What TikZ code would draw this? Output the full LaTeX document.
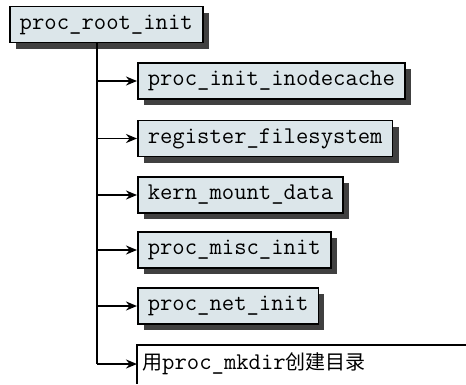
\documentclass[tikz,border=0pt]{standalone}
\usepackage{fontspec}
\newfontfamily\cjk{Noto Sans CJK SC}
\usetikzlibrary{arrows.meta,shadows}
\definecolor{boxfill}{HTML}{DCE6EA}
\definecolor{shade}{HTML}{404040}
\tikzset{
  x=1pt,y=-1pt,
  fnbox/.style={draw=black,line width=1.5pt,fill=boxfill,anchor=west,
    inner xsep=10pt,inner ysep=0pt,minimum height=36pt,
    font=\fontsize{24}{28}\selectfont\ttfamily,
    drop shadow={shadow xshift=6pt,shadow yshift=-6pt,fill=shade,opacity=1}},
  conn/.style={line width=1.8pt,-{Stealth[length=11pt,width=9pt]}},
  plain/.style={line width=1.3pt}
}
\begin{document}
\begin{tikzpicture}
\useasboundingbox (0,0) rectangle (466,384);
\node[fnbox] (root) at (9,24.5) {proc\_root\_init};
\node[fnbox] (b1) at (137,81) {proc\_init\_inodecache};
\node[fnbox] (b2) at (137,138.5) {register\_filesystem};
\node[fnbox] (b3) at (137,195) {kern\_mount\_data};
\node[fnbox] (b4) at (137,250) {proc\_misc\_init};
\node[fnbox] (b5) at (137,306) {proc\_net\_init};
\coordinate (tl) at (137,345);
\coordinate (tr) at (466,345);
\coordinate (bl) at (137,384);
\coordinate (b6) at (137,364);
\node[anchor=west,inner sep=0pt] (t6) at (142,364)
  {\fontsize{20}{24}\selectfont\cjk 用\ttfamily\fontsize{24}{28}\selectfont proc\_mkdir\cjk\fontsize{20}{24}\selectfont 创建目录};
\draw[plain] (tr) -- (tl) -- (bl);
\coordinate (top) at (97,0 |- root.south);
\coordinate (v1) at (97,81);
\coordinate (v2) at (97,138.5);
\coordinate (v3) at (97,195);
\coordinate (v4) at (97,250);
\coordinate (v5) at (97,306);
\coordinate (v6) at (97,364);
\draw[line width=1.8pt] (top) -- (v6);
\draw[conn] (v1) -- (b1.west);
\draw[conn] (v2) -- (b2.west);
\draw[conn] (v3) -- (b3.west);
\draw[conn] (v4) -- (b4.west);
\draw[conn] (v5) -- (b5.west);
\draw[conn] (v6) -- (b6);
\end{tikzpicture}
\end{document}
